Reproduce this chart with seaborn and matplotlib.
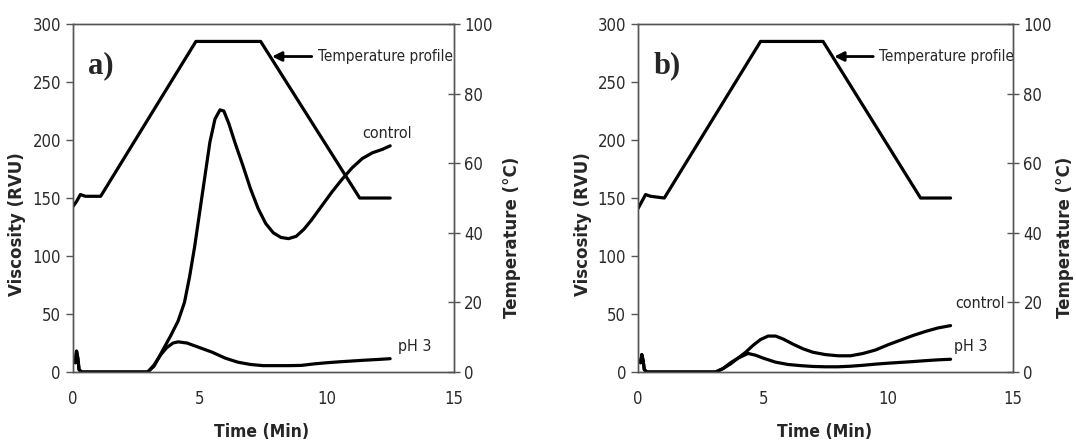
import matplotlib
matplotlib.use("Agg")
import matplotlib.pyplot as plt
import seaborn as sns

sns.set_style("white")
plt.rcParams["font.family"] = ["DejaVu Sans"]

# ---------------- data ----------------
temp_time_a = [0, 0.15, 0.3, 0.5, 1.1, 4.85, 7.4, 11.3, 12.5]
temp_a = [47.5, 49, 51, 50.5, 50.5, 95, 95, 50, 50]
temp_time_b = [0, 0.15, 0.3, 0.5, 1.05, 4.9, 7.4, 11.3, 12.5]
temp_b = [47, 49, 51, 50.5, 50, 95, 95, 50, 50]

ctrl_time_a = [0, 0.1, 0.15, 0.2, 0.25, 0.35, 2.95, 3.2, 3.5, 3.85, 4.15, 4.4, 4.6, 4.8, 5.0,
               5.2, 5.4, 5.6, 5.8, 5.95, 6.15, 6.4, 6.7, 7.0, 7.3, 7.6, 7.9, 8.2, 8.5, 8.8,
               9.1, 9.4, 9.8, 10.2, 10.6, 11.0, 11.4, 11.8, 12.2, 12.5]
ctrl_a = [10, 8, 18, 12, 2, 0, 0, 5, 17, 31, 44, 60, 82, 108, 138,
          168, 198, 218, 226, 225, 214, 197, 178, 158, 141, 128, 120, 116, 115, 117,
          123, 131, 143, 155, 166, 176, 184, 189, 192, 195]

ph3_time_a = [0, 0.1, 0.15, 0.2, 0.25, 0.35, 2.95, 3.2, 3.47, 3.7, 3.95, 4.15, 4.5, 5.0, 5.5,
              6.0, 6.5, 7.0, 7.5, 8.0, 8.5, 9.0, 9.5, 10.0, 10.5, 11.0, 11.5, 12.0, 12.5]
ph3_a = [10, 8, 18, 12, 2, 0, 0, 6, 15, 21, 25, 26, 25, 21, 17,
         12, 8.5, 6.5, 5.5, 5.5, 5.5, 5.7, 7, 8, 8.8, 9.5, 10.2, 10.8, 11.5]

ctrl_time_b = [0, 0.1, 0.15, 0.2, 0.25, 0.35, 3.1, 3.4, 3.7, 4.0, 4.3, 4.6, 4.9, 5.2, 5.5,
               5.8, 6.2, 6.6, 7.0, 7.5, 8.0, 8.5, 9.0, 9.5, 10.0, 10.5, 11.0, 11.5, 12.0, 12.5]
ctrl_b = [10, 8, 15, 10, 2, 0, 0, 3, 7, 12, 17, 23, 28, 31, 31,
          28.5, 24, 20, 17, 15, 14, 14, 16, 19, 23.5, 27.5, 31.5, 35, 38, 40]

ph3_time_b = [0, 0.1, 0.15, 0.2, 0.25, 0.35, 3.1, 3.4, 3.7, 4.0, 4.4, 4.7, 5.0, 5.5, 6.0,
              6.5, 7.0, 7.5, 8.0, 8.5, 9.0, 9.5, 10.0, 10.5, 11.0, 11.5, 12.0, 12.5]
ph3_b = [10, 8, 15, 10, 2, 0, 0, 3, 8, 12, 16, 14.5, 12, 8.5, 6.5,
         5.5, 4.8, 4.5, 4.5, 5, 5.8, 6.8, 7.6, 8.3, 9, 9.8, 10.5, 11]

x_ticks = [0, 5, 10, 15]
visc_ticks = [0, 50, 100, 150, 200, 250, 300]
temp_ticks = [0, 20, 40, 60, 80, 100]

W, H = 1076, 445
panels = [
    dict(tag="a)", tt=temp_time_a, tv=temp_a, ct=ctrl_time_a, cv=ctrl_a, pt=ph3_time_a, pv=ph3_a,
         ctrl_lab=(11.4, 206), ph_lab=(12.8, 22), rect=[0.0676, 0.164, 0.354, 0.782],
         vx=17, tx=512, xx=262),
    dict(tag="b)", tt=temp_time_b, tv=temp_b, ct=ctrl_time_b, cv=ctrl_b, pt=ph3_time_b, pv=ph3_b,
         ctrl_lab=(12.7, 59), ph_lab=(12.65, 22), rect=[0.593, 0.164, 0.3485, 0.782],
         vx=583, tx=1065, xx=825),
]

fig = plt.figure(figsize=(W / 100, H / 100), dpi=100)
LW = 2.3
TICKCOL = "#2a2a2a"
SPCOL = "#555555"
COND = dict(family="DejaVu Sans", stretch="condensed")

for p in panels:
    ax = fig.add_axes(p["rect"])
    sns.lineplot(x=p["ct"], y=p["cv"], ax=ax, color="black", lw=LW, estimator=None, sort=False)
    sns.lineplot(x=p["pt"], y=p["pv"], ax=ax, color="black", lw=LW, estimator=None, sort=False)
    ax.set_xlim(0, 15)
    ax.set_ylim(0, 300)
    ax.set_xticks(x_ticks)
    ax.set_yticks(visc_ticks)
    for s in ax.spines.values():
        s.set_color(SPCOL)
        s.set_linewidth(1.0)
    ax.tick_params(axis="both", direction="out", length=5, width=1, color=SPCOL,
                   labelsize=12, labelcolor=TICKCOL)
    ax.tick_params(axis="x", pad=8)
    for lab in ax.get_xticklabels() + ax.get_yticklabels():
        lab.set_fontfamily("DejaVu Sans")
        lab.set_fontstretch("condensed")
    ax.set_xlabel("")
    ax.set_ylabel("")
    ax.grid(False)

    ax2 = ax.twinx()
    sns.lineplot(x=p["tt"], y=p["tv"], ax=ax2, color="black", lw=LW, estimator=None, sort=False)
    ax2.set_ylim(0, 100)
    ax2.set_yticks(temp_ticks)
    ax2.tick_params(axis="y", direction="inout", length=8, width=1, color=SPCOL,
                    labelsize=12, labelcolor=TICKCOL)
    for lab in ax2.get_yticklabels():
        lab.set_fontfamily("DejaVu Sans")
        lab.set_fontstretch("condensed")
    for s in ax2.spines.values():
        s.set_color(SPCOL)
        s.set_linewidth(1.0)
    ax2.set_ylabel("")
    ax2.grid(False)

    # axis titles
    fig.text(p["vx"] / W, 1 - 224 / H, "Viscosity (RVU)", rotation=90, ha="center", va="center",
             fontsize=12, fontweight="bold", family="DejaVu Sans")
    fig.text(p["tx"] / W, 1 - 237 / H, "Temperature (°C)", rotation=90, ha="center", va="center",
             fontsize=12, fontweight="bold", family="DejaVu Sans")
    fig.text(p["xx"] / W, 1 - 432 / H, "Time (Min)", ha="center", va="center",
             fontsize=12.5, fontweight="bold", **COND)

    ax.text(0.6, 264, p["tag"], fontsize=22, fontweight="bold", family="Liberation Serif",
            va="center", ha="left")
    ax.annotate("Temperature profile", xy=(7.85, 272), xytext=(9.65, 272),
                fontsize=11, va="center", ha="left", **COND,
                arrowprops=dict(arrowstyle="-|>", color="black", lw=2, mutation_scale=14,
                                shrinkA=2, shrinkB=0))
    ax.text(p["ctrl_lab"][0], p["ctrl_lab"][1], "control", fontsize=11.5,
            va="center", ha="left", **COND)
    ax.text(p["ph_lab"][0], p["ph_lab"][1], "pH 3", fontsize=11.5,
            va="center", ha="left", **COND)

fig.savefig("out.png", dpi=100)
